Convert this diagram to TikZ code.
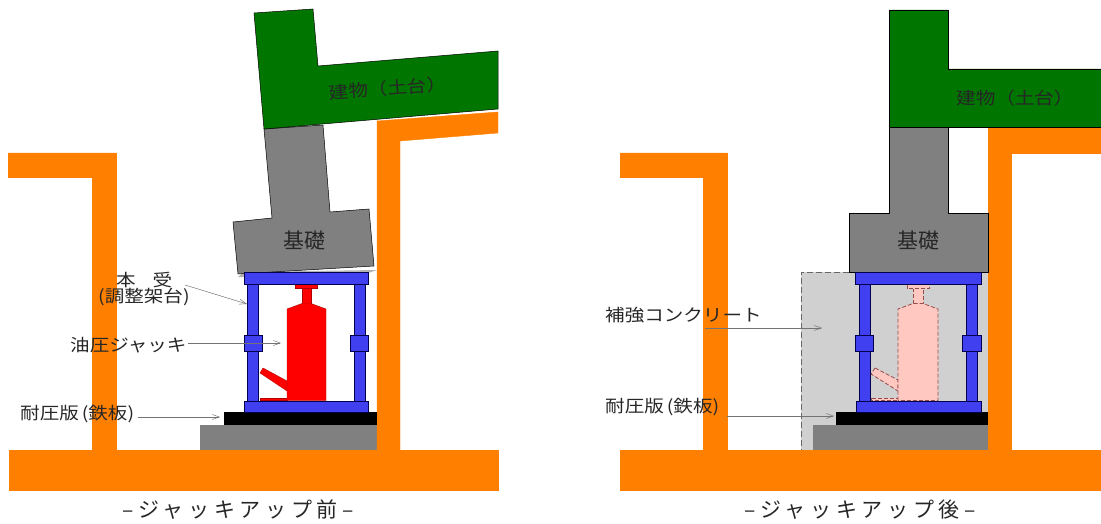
\documentclass[tikz,border=0pt]{standalone}
\usepackage{fontspec}
\setmainfont{Noto Sans CJK JP}
\newfontfamily\labelfont[FakeStretch=1.15]{Noto Sans CJK JP}
\newfontfamily\capfont[LetterSpace=22]{Noto Sans CJK JP}
\usetikzlibrary{arrows.meta}
\definecolor{wallor}{RGB}{255,128,0}
\definecolor{bldgr}{RGB}{0,118,0}
\definecolor{fdgrey}{RGB}{128,128,128}
\definecolor{frblue}{RGB}{64,64,240}
\definecolor{jackred}{RGB}{255,0,0}
\definecolor{jackpink}{RGB}{255,200,192}
\definecolor{concgrey}{RGB}{208,208,208}
\tikzset{
  wallpart/.style={fill=wallor,draw=wallor,line width=.4pt},
  bldgpart/.style={fill=bldgr,draw=black,line width=.5pt},
  fdnpart/.style={fill=fdgrey,draw=black,line width=.5pt},
  basepart/.style={fill=fdgrey,draw=none},
  framepart/.style={fill=frblue,draw=black!70!blue,line width=1pt},
  jackon/.style={fill=jackred,draw=jackred!70!black,line width=.4pt},
  jackoff/.style={fill=jackpink,draw=black!60!red!70!white,dash pattern=on 4pt off 2pt,line width=.8pt},
  leader/.style={draw=black!55,line width=.5pt,-{Straight Barb[length=7pt,width=5pt]}},
  labeltext/.style={font=\labelfont\fontsize{17}{17}\selectfont,text=black!85,inner sep=0pt,anchor=west},
  captext/.style={font=\capfont\fontsize{21}{21}\selectfont,text=black!85,inner sep=0pt}
}
\begin{document}
\begin{tikzpicture}[x=1pt,y=-1pt]
\useasboundingbox (0,0) rectangle (1101,524);
% ---------- LEFT ----------
\fill[basepart] (200,425) rectangle (377,450);
\draw[wallpart] (377,121) -- (498,112) -- (498,133) -- (400,141) -- (400,450) -- (377,450) -- cycle;
\draw[wallpart] (8,153) -- (116,153) -- (116,450) -- (92,450) -- (92,177) -- (8,177) -- cycle;
\draw[wallpart] (9,450) rectangle (498,490);
\fill[fdgrey!60] (238,277) -- (244,272) -- (377,270) -- (368,273) -- (244,277) -- cycle;
\draw[fdnpart] (264,129) -- (323,125) -- (330,212) -- (369,209) -- (374,266) -- (238,274) -- (233,222) -- (272,218) -- cycle;
\draw[bldgpart] (254,13) -- (313,9) -- (318,66) -- (498,51) -- (498,109) -- (264,129) -- cycle;
\fill[black] (224,412) rectangle (377,425);
\draw[framepart] (247,284) rectangle (258,401);
\draw[framepart] (354,284) rectangle (365,401);
\draw[framepart] (244,335) rectangle (262,351);
\draw[framepart] (350,335) rectangle (368,351);
\draw[jackon] (260,398) rectangle (287,400.5);
\draw[jackon] (263,368) -- (260,373) -- (287,391) -- (287,381) -- cycle;
\draw[jackon] (302,288) rectangle (311,304);
\draw[jackon] (295,284.5) rectangle (317,288.5);
\draw[jackon] (287,400.5) -- (287,309) -- (302,303.5) -- (311,303.5) -- (326,309) -- (326,400.5) -- cycle;
\draw[framepart] (244,272.5) rectangle (368,284);
\draw[framepart] (244,401) rectangle (368,412.5);
% ---------- RIGHT ----------
\fill[concgrey] (801,272) rectangle (988,450);
\draw[black!60,dash pattern=on 6pt off 3pt,line width=.7pt] (849,272) -- (801,272) -- (801,450);
\fill[basepart] (813,425) rectangle (988,450);
\draw[wallpart] (988,127) -- (1101,127) -- (1101,153) -- (1011,153) -- (1011,450) -- (988,450) -- cycle;
\draw[wallpart] (620,153) -- (727,153) -- (727,450) -- (703,450) -- (703,177) -- (620,177) -- cycle;
\draw[wallpart] (620,450) rectangle (1101,490);
\draw[fdnpart] (889,127) -- (948,127) -- (948,213) -- (988,213) -- (988,272) -- (849,272) -- (849,213) -- (889,213) -- cycle;
\draw[bldgpart] (889,10) -- (948,10) -- (948,69) -- (1101,69) -- (1101,127) -- (889,127) -- cycle;
\fill[black] (836,412) rectangle (988,425);
\draw[framepart] (859,284) rectangle (870,401);
\draw[framepart] (966,284) rectangle (977,401);
\draw[framepart] (855,335) rectangle (873,351);
\draw[framepart] (962,335) rectangle (981,351);
\draw[jackoff] (871,398) rectangle (898,400.5);
\draw[jackoff] (875,368) -- (871,374) -- (898,391) -- (898,380) -- cycle;
\draw[jackoff] (913,288) rectangle (923,304);
\draw[jackoff] (907,284.5) rectangle (929,288.5);
\draw[jackoff] (898,400.5) -- (898,309) -- (913,303.5) -- (923,303.5) -- (938,309) -- (938,400.5) -- cycle;
\draw[framepart] (855,272.5) rectangle (981,284);
\draw[framepart] (856,401) rectangle (981,412.5);
% ---------- LEADERS ----------
\coordinate (a1) at (185,285); \coordinate (a2) at (247,304);
\coordinate (b1) at (188,343); \coordinate (b2) at (281,343);
\coordinate (c1) at (138,417); \coordinate (c2) at (220,417);
\coordinate (d1) at (705,328); \coordinate (d2) at (822,328);
\coordinate (e1) at (727,416); \coordinate (e2) at (834,416);
\draw[leader] (a1) -- (a2);
\draw[leader] (b1) -- (b2);
\draw[leader] (c1) -- (c2);
\draw[leader] (d1) -- (d2);
\draw[leader] (e1) -- (e2);
% ---------- TEXT ----------
\node[labeltext,rotate=4.5] (t1) at (329,93) {建物（土台）};
\node[labeltext] (t2) at (956,98) {建物（土台）};
\node[labeltext,font=\fontsize{21}{21}\selectfont] (t3) at (283,241) {基礎};
\node[labeltext,font=\fontsize{21}{21}\selectfont] (t4) at (897,241) {基礎};
\node[labeltext] (t5) at (116,280) {本\hspace{1em}受};
\node[labeltext] (t6) at (98,297) {(調整架台)};
\node[labeltext] (t7) at (70,345) {油圧ジャッキ};
\node[labeltext] (t8) at (20,414) {耐圧版\kern3pt(鉄板)};
\node[labeltext] (t9) at (605,315) {補強コンクリート};
\node[labeltext] (t10) at (605,407) {耐圧版\kern3pt(鉄板)};
\node[captext] (t11) at (238,510) {–ジャッキアップ前–};
\node[captext] (t12) at (860,510) {–ジャッキアップ後–};
\end{tikzpicture}
\end{document}
